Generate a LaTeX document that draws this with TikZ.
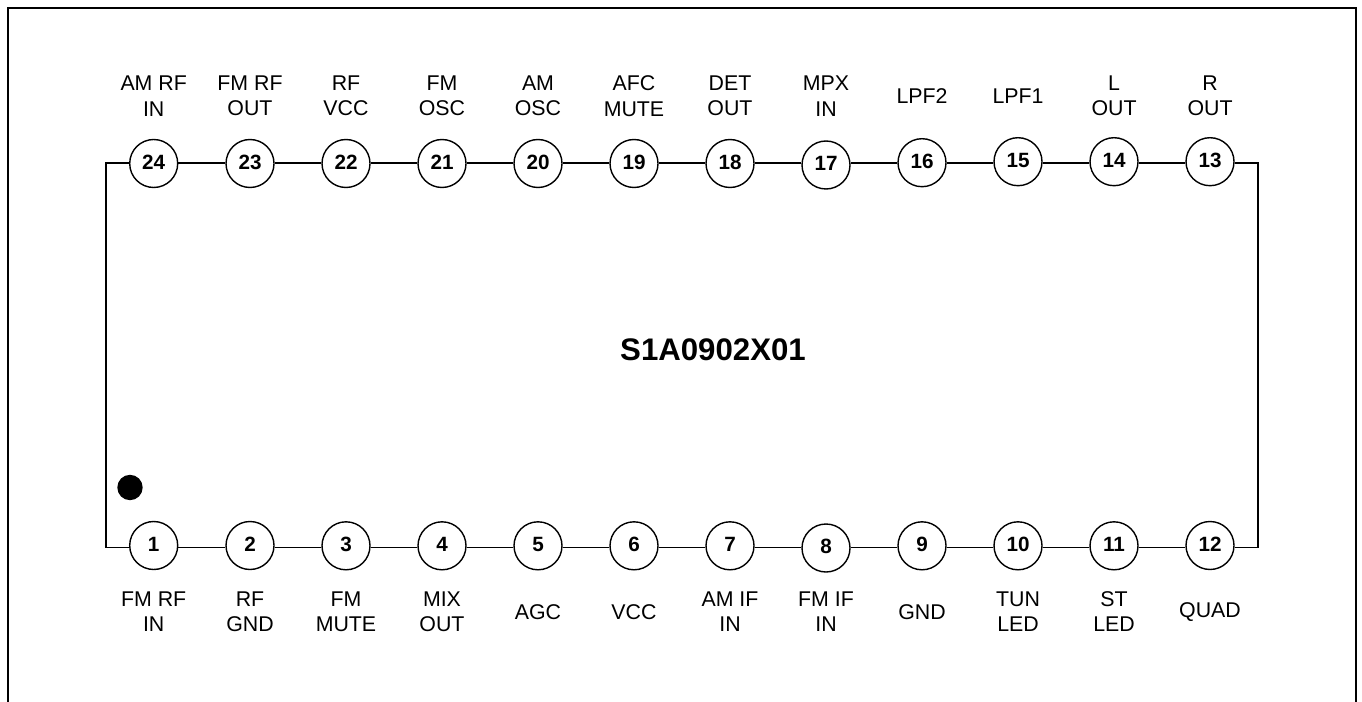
\documentclass[tikz,border=0pt]{standalone}
\usepackage{fontspec}
\setmainfont{Liberation Sans}
\tikzset{
	pin/.style={draw,circle,line width=1.05pt,minimum size=36pt,inner sep=0pt,text depth=2pt,font=\fontsize{15.5}{15.5}\selectfont\bfseries},
	pinlabel/.style={align=center,font=\fontsize{16}{19}\selectfont},
	wire/.style={line width=1.2pt},
}
\begin{document}
\begin{tikzpicture}[x=0.75pt,y=-0.75pt]
	\useasboundingbox (0,0) rectangle (1362,702);
	\draw[line width=1.8pt] (8,702) -- (8,8) -- (1356,8) -- (1356,702);

	\node[pin] (p24) at (153.7,163.5) {24};
	\node[pin] (p23) at (250,163.5) {23};
	\node[pin] (p22) at (346,163.5) {22};
	\node[pin] (p21) at (442,163.5) {21};
	\node[pin] (p20) at (538,163.5) {20};
	\node[pin] (p19) at (634,163.5) {19};
	\node[pin] (p18) at (730,163.5) {18};
	\node[pin] (p17) at (826,165) {17};
	\node[pin] (p16) at (922,162.7) {16};
	\node[pin] (p15) at (1018,161.7) {15};
	\node[pin] (p14) at (1114,161.7) {14};
	\node[pin] (p13) at (1210,161.7) {13};

	\node[pin] (p1) at (153.7,545.5) {1};
	\node[pin] (p2) at (250,545.5) {2};
	\node[pin] (p3) at (346,545.8) {3};
	\node[pin] (p4) at (442,545.8) {4};
	\node[pin] (p5) at (538,545.8) {5};
	\node[pin] (p6) at (634,545.8) {6};
	\node[pin] (p7) at (730,545.8) {7};
	\node[pin] (p8) at (826,548) {8};
	\node[pin] (p9) at (922,545.8) {9};
	\node[pin] (p10) at (1018,545.8) {10};
	\node[pin] (p11) at (1114,545.8) {11};
	\node[pin] (p12) at (1210,545.5) {12};

	\coordinate (tl) at (105.7,163.3);
	\coordinate (bl) at (105.7,547.3);
	\coordinate (tr) at (1257.7,163.3);
	\coordinate (br) at (1257.7,547.3);

	\draw[wire] (p24.west |- tl) -- (tl) -- (bl) -- (p1.west |- bl);
	\draw[wire] (p13.east |- tr) -- (tr) -- (br) -- (p12.east |- br);

	\draw[wire] (p24.east |- tl) -- (p23.west |- tl);
	\draw[wire] (p23.east |- tl) -- (p22.west |- tl);
	\draw[wire] (p22.east |- tl) -- (p21.west |- tl);
	\draw[wire] (p21.east |- tl) -- (p20.west |- tl);
	\draw[wire] (p20.east |- tl) -- (p19.west |- tl);
	\draw[wire] (p19.east |- tl) -- (p18.west |- tl);
	\draw[wire] (p18.east |- tl) -- (p17.west |- tl);
	\draw[wire] (p17.east |- tl) -- (p16.west |- tl);
	\draw[wire] (p16.east |- tl) -- (p15.west |- tl);
	\draw[wire] (p15.east |- tl) -- (p14.west |- tl);
	\draw[wire] (p14.east |- tl) -- (p13.west |- tl);

	\draw[wire] (p1.east |- bl) -- (p2.west |- bl);
	\draw[wire] (p2.east |- bl) -- (p3.west |- bl);
	\draw[wire] (p3.east |- bl) -- (p4.west |- bl);
	\draw[wire] (p4.east |- bl) -- (p5.west |- bl);
	\draw[wire] (p5.east |- bl) -- (p6.west |- bl);
	\draw[wire] (p6.east |- bl) -- (p7.west |- bl);
	\draw[wire] (p7.east |- bl) -- (p8.west |- bl);
	\draw[wire] (p8.east |- bl) -- (p9.west |- bl);
	\draw[wire] (p9.east |- bl) -- (p10.west |- bl);
	\draw[wire] (p10.east |- bl) -- (p11.west |- bl);
	\draw[wire] (p11.east |- bl) -- (p12.west |- bl);

	\node[pinlabel] (l24) at (153.7,96) {AM RF\\IN};
	\node[pinlabel] (l23) at (250,96) {FM RF\\OUT};
	\node[pinlabel] (l22) at (346,96) {RF\\VCC};
	\node[pinlabel] (l21) at (442,96) {FM\\OSC};
	\node[pinlabel] (l20) at (538,96) {AM\\OSC};
	\node[pinlabel] (l19) at (634,96) {AFC\\MUTE};
	\node[pinlabel] (l18) at (730,96) {DET\\OUT};
	\node[pinlabel] (l17) at (826,96) {MPX\\IN};
	\node[pinlabel] (l16) at (922,96) {LPF2};
	\node[pinlabel] (l15) at (1018,96) {LPF1};
	\node[pinlabel] (l14) at (1114,96) {L\\OUT};
	\node[pinlabel] (l13) at (1210,96) {R\\OUT};

	\node[pinlabel] (l1) at (153.7,611.5) {FM RF\\IN};
	\node[pinlabel] (l2) at (250,611.5) {RF\\GND};
	\node[pinlabel] (l3) at (346,611.5) {FM\\MUTE};
	\node[pinlabel] (l4) at (442,611.5) {MIX\\OUT};
	\node[pinlabel] (l5) at (538,612.5) {AGC};
	\node[pinlabel] (l6) at (634,612.5) {VCC};
	\node[pinlabel] (l7) at (730,611.5) {AM IF\\IN};
	\node[pinlabel] (l8) at (826,611.5) {FM IF\\IN};
	\node[pinlabel] (l9) at (922,612.5) {GND};
	\node[pinlabel] (l10) at (1018,611.5) {TUN\\LED};
	\node[pinlabel] (l11) at (1114,611.5) {ST\\LED};
	\node[pinlabel] (l12) at (1210,612.5) {QUAD};

	\node[font=\fontsize{23.4}{23.4}\selectfont\bfseries] (chip) at (713,350) {S1A0902X01};
	\node[circle,fill=black,minimum size=19pt,inner sep=0pt] (dot) at (130,487.5) {};
\end{tikzpicture}
\end{document}
